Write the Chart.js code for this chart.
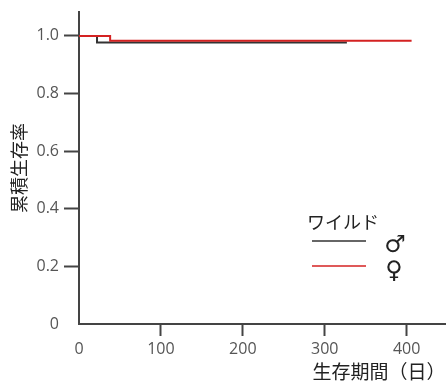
<!doctype html>
<html lang="ja">
<head>
  <meta charset="utf-8">
  <title>累積生存率</title>
  <script src="https://cdn.jsdelivr.net/npm/chart.js@4/dist/chart.umd.min.js"></script>
  <style>
    html, body { margin: 0; padding: 0; background: #fff; }
    .grafico { position: relative; width: 446px; height: 383px; }
  </style>
</head>
<body>
<div class="grafico">
  <canvas id="myChart"></canvas>
</div>

<script>
// datos
var serieNombres = ['♂', '♀'];
var grupoNombre = 'ワイルド';
var diasMacho = [0, 22, 327];
var survMacho = [1.0, 0.977, 0.977];
var diasHembra = [0, 38, 406];
var survHembra = [1.0, 0.983, 0.983];
var xTicks = [0, 100, 200, 300, 400];
var yTicks = [0, 0.2, 0.4, 0.6, 0.8, 1.0];
var xTitulo = '生存期間（日）';
var yTitulo = '累積生存率';

function puntos(xs, ys) {
  return xs.map(function (x, i) { return { x: x, y: ys[i] }; });
}

const jp = '"Noto Sans CJK JP", "Noto Sans", sans-serif';
const num = '"Open Sans", sans-serif';

// leyenda y titulo del eje x dibujados a mano
const extras = {
  id: 'extras',
  afterDraw: (chart) => {
    const c = chart.ctx;
    c.save();
    c.fillStyle = '#222';
    c.font = '19px ' + jp;
    c.textBaseline = 'middle';
    c.textAlign = 'center';
    c.fillText(xTitulo, 379, 372);
    c.textAlign = 'left';
    c.font = '18px ' + jp;
    c.fillText(grupoNombre, 307, 222);
    c.lineWidth = 1.5;
    c.strokeStyle = '#333';
    c.beginPath(); c.moveTo(312, 241); c.lineTo(366, 241); c.stroke();
    c.strokeStyle = '#d42222';
    c.beginPath(); c.moveTo(312, 266); c.lineTo(366, 266); c.stroke();
    c.fillStyle = '#222';
    c.font = '24px "DejaVu Sans", sans-serif';
    c.textAlign = 'center';
    c.fillText(serieNombres[0], 395, 246);
    c.fillText(serieNombres[1], 394, 272);
    c.restore();
  }
};

var ctx = document.getElementById('myChart').getContext('2d');
var myChart = new Chart(ctx, {
  type: 'line',
  data: {
    datasets: [{
      label: serieNombres[0],
      data: puntos(diasMacho, survMacho),
      borderColor: '#333333',
      borderWidth: 2,
      stepped: 'before',
      pointRadius: 0,
      order: 2,
    }, {
      label: serieNombres[1],
      data: puntos(diasHembra, survHembra),
      borderColor: '#d42222',
      borderWidth: 2,
      stepped: 'before',
      pointRadius: 0,
      order: 1,
    }]
  },
  plugins: [extras],
  options: {
    responsive: true,
    maintainAspectRatio: false,
    animation: false,
    layout: { padding: { top: 12, right: 0, left: 0, bottom: 0 } },
    plugins: {
      legend: { display: false },
      tooltip: { enabled: false },
    },
    scales: {
      x: {
        type: 'linear',
        min: 0,
        max: 448,
        afterBuildTicks: (ax) => { ax.ticks = xTicks.map(v => ({ value: v })); },
        grid: {
          drawOnChartArea: false,
          drawTicks: true,
          tickLength: 12,
          tickWidth: 2,
          tickColor: (c) => c.tick && c.tick.value === 0 ? 'rgba(0,0,0,0)' : '#444',
        },
        border: { color: '#444', width: 2 },
        ticks: {
          color: '#555',
          font: { size: 16, family: num },
          padding: 4,
          maxRotation: 0,
        },
        afterFit: (ax) => { ax.height = 59; ax.paddingLeft = 0; ax.paddingRight = 0; },
      },
      y: {
        min: 0,
        max: 1.083,
        afterBuildTicks: (ax) => { ax.ticks = yTicks.map(v => ({ value: v })); },
        grid: {
          drawOnChartArea: false,
          drawTicks: true,
          tickLength: 15,
          tickWidth: 2,
          tickColor: (c) => c.tick && c.tick.value === 0 ? 'rgba(0,0,0,0)' : '#444',
        },
        border: { color: '#444', width: 2 },
        title: {
          display: true,
          text: yTitulo,
          color: '#222',
          font: { size: 18, family: jp },
          padding: { top: 8, bottom: 0 },
        },
        ticks: {
          color: '#555',
          font: { size: 16, family: num },
          padding: 5,
          callback: (v) => v === 0 ? '0' : v.toFixed(1),
        },
        afterFit: (ax) => { ax.width = 79; ax.paddingTop = 0; ax.paddingBottom = 0; },
      }
    }
  }
});
</script>
</body>
</html>
